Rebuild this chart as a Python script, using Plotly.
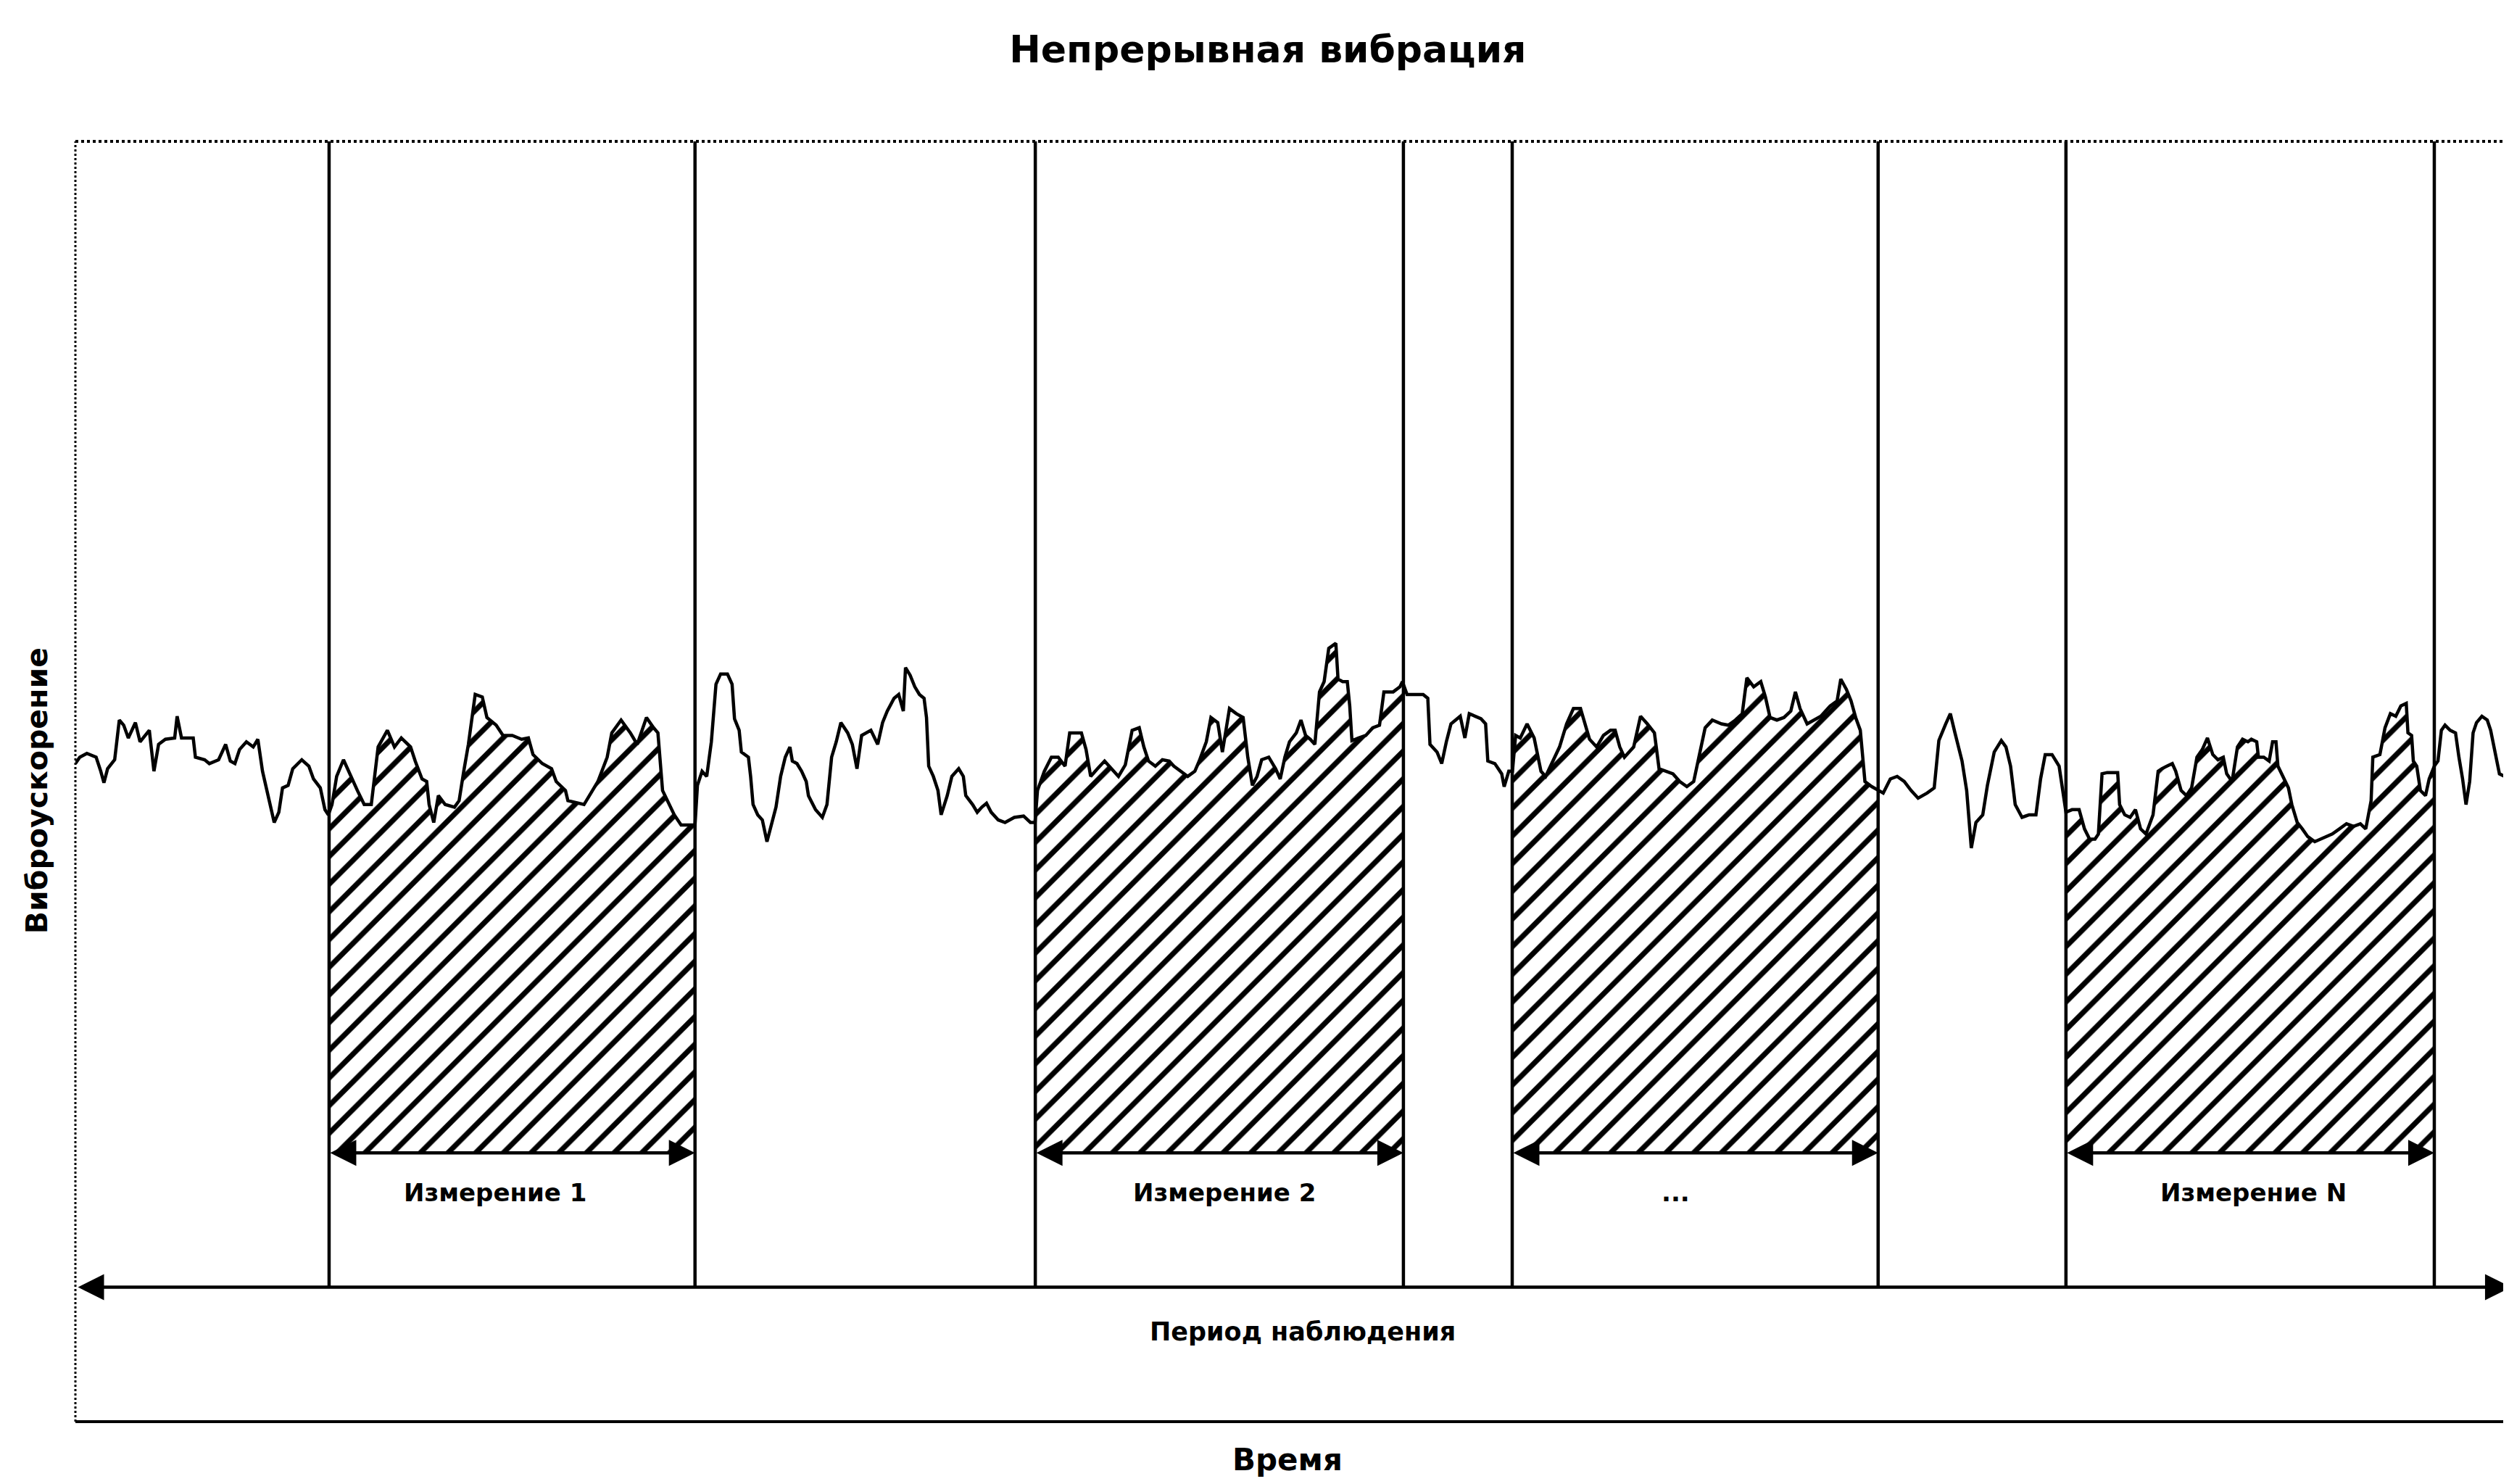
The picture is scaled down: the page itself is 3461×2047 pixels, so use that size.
import numpy as np
import plotly.graph_objects as go

# ---------------- data ----------------
title_text = "Непрерывная вибрация"
x_title = "Время"
y_title = "Виброускорение"
period_label = "Период наблюдения"

# time of the vertical marker lines (arbitrary time units, 0..1000)
boundaries = [104, 254, 393.5, 544.4, 589, 739, 816, 967]
# measurement windows (start, end) and their labels
meas_start = [104, 393.5, 589, 816]
meas_end = [254, 544.4, 739, 967]
meas_labels = ["Измерение 1", "Измерение 2", "...", "Измерение N"]
meas_label_t = [172, 471, 656, 893]

# levels (amplitude units 0..100)
meas_level = 21.0
meas_label_level = 17.9
period_level = 10.5
period_label_level = 7.0
period_start = 0.6
period_end = 998.5
period_label_t = 503

# vibration signal
signal_t = [
    0, 1.8, 4.7, 8.5, 10.4, 11.7, 13.2, 16.1, 18.0, 19.8, 21.7, 24.6, 26.5, 28.4, 30.3, 32.2, 34.1, 36.9,
    40.7, 41.7, 43.5, 48.3, 49.2, 53.0, 54.9, 58.7, 61.6, 63.5, 65.4, 67.3, 70.1, 72.9, 74.8, 76.7, 79.6,
    81.5, 83.4, 84.9, 87.2, 89.1, 92.8, 95.7, 97.6, 100.4, 102.3, 103.7,
    105.2, 107.1, 109.9, 112.8, 115.6, 118.4, 121.3, 124.1, 127.9, 130.8, 133.6, 137.4, 139.3, 142.1, 144.0,
    145.0, 146.9, 148.8, 151.6, 155.4, 157.3, 159.2, 161.1, 163.9, 166.8, 168.7, 172.5, 175.3, 179.1, 182.9,
    185.7, 187.6, 191.4, 195.2, 197.1, 200.9, 201.9, 208.5, 214.2, 218.0, 219.9, 223.7, 227.5, 230.3, 234.1,
    237.0, 238.8, 240.7, 242.6, 245.5, 248.3, 254.0,
    255.0, 256.9, 258.8, 260.7, 262.6, 264.5, 267.3, 269.2, 270.2, 272.1, 273.0, 275.9, 276.8, 277.8, 279.7,
    281.6, 283.5, 285.4, 287.2, 289.1, 291.0, 292.9, 293.9, 295.8, 297.7, 299.6, 300.5, 303.4, 306.2, 308.1,
    310.0, 311.9, 313.8, 316.6, 318.5, 320.4, 322.3, 326.1, 328.9, 330.9, 332.8, 335.6, 337.5, 339.4, 340.3,
    342.2, 344.1, 346.0, 347.9, 348.9, 349.8, 351.7, 353.6, 354.9, 357.4, 359.3, 362.1, 364.0, 365.0, 367.8,
    369.7, 371.6, 373.5, 375.4, 378.3, 381.1, 384.9, 388.7, 391.5, 393.4,
    394.4, 397.2, 400.1, 402.9, 405.7, 407.6, 412.4, 414.3, 416.2, 419.0, 421.9, 424.7, 427.6, 430.4, 433.2,
    436.1, 438.0, 439.9, 442.7, 445.6, 448.4, 450.3, 453.2, 456.0, 458.9, 460.7, 463.6, 465.5, 468.3, 470.2,
    473.1, 475.9, 478.7, 480.6, 482.5, 484.4, 486.3, 489.2, 492.0, 493.9, 495.8, 497.7, 500.5, 502.4, 504.3,
    506.2, 508.1, 510.0, 511.9, 513.8, 516.7, 517.6, 519.5, 521.4, 522.4, 523.3, 526.1, 529.0, 531.8, 534.6,
    536.4, 540.2, 543.0, 544.0,
    545.9, 552.5, 554.4, 555.3, 558.2, 560.1, 562.0, 563.9, 567.7, 569.6, 571.4, 576.2, 578.1, 579.0, 581.9,
    584.7, 585.7, 587.6, 589.1,
    590.4, 592.3, 595.1, 598.0, 600.8, 602.7, 605.6, 608.4, 611.3, 614.1, 617.0, 618.8, 620.7, 623.6, 626.4,
    629.3, 631.2, 633.1, 635.0, 638.8, 641.6, 644.4, 647.3, 649.2, 652.0, 654.9, 657.7, 660.6, 663.4, 665.3,
    668.1, 671.0, 674.8, 677.6, 680.5, 683.3, 685.2, 688.0, 690.9, 692.8, 694.7, 697.5, 700.4, 703.2, 705.1,
    707.0, 709.9, 712.7, 715.5, 719.3, 722.2, 723.7, 726.0, 727.9, 729.8, 731.7, 733.6, 736.4, 738.9,
    741.1, 744.0, 746.8, 749.7, 752.5, 755.4, 759.1, 762.0, 763.9, 766.7, 768.6, 770.5, 773.4, 775.3, 777.2,
    779.1, 781.9, 783.8, 786.6, 789.5, 791.4, 793.3, 795.2, 798.0, 800.9, 803.7, 805.6, 807.5, 810.3, 813.2,
    816.0,
    818.5, 821.4, 823.6, 825.7, 827.9, 829.3, 830.8, 832.9, 837.2, 838.0, 840.1, 842.3, 844.5, 846.6, 848.8,
    851.7, 853.8, 855.3, 857.4, 859.6, 861.0, 863.2, 865.4, 867.5, 869.7, 871.9, 874.0, 876.2, 878.3, 880.5,
    881.9, 884.1, 886.3, 888.4, 890.6, 892.0, 894.2, 894.9, 897.1, 899.3, 900.7, 902.1, 902.9, 905.0, 907.2,
    908.6, 910.8, 912.9, 915.1, 918.0, 920.2, 923.0, 925.2, 928.1, 931.0, 933.9, 936.7, 938.9, 941.1, 941.8,
    944.7, 946.8, 949.0, 951.2, 953.3, 955.5, 956.2, 957.7, 958.4, 959.8, 961.3, 963.4, 964.9, 967.0,
    968.5, 969.9, 971.4, 973.5, 975.7, 977.1, 978.6, 980.0, 981.5, 982.9, 984.3, 986.5, 988.7, 990.1, 992.3,
    993.7, 995.9, 998.0, 1000,
]
signal_a = [
    51.4, 51.9, 52.2, 51.9, 50.8, 49.9, 51.0, 51.7, 54.8, 54.4, 53.4, 54.6, 53.1, 53.6, 54.0, 50.8, 52.9, 53.3,
    53.4, 55.1, 53.4, 53.4, 51.9, 51.7, 51.4, 51.7, 52.9, 51.6, 51.4, 52.5, 53.1, 52.7, 53.3, 50.8, 48.5,
    46.8, 47.6, 49.5, 49.7, 51.0, 51.7, 51.2, 50.2, 49.5, 47.8, 47.4,
    48.2, 50.4, 51.7, 50.4, 49.3, 48.2, 48.2, 52.7, 54.0, 52.7, 53.4, 52.7, 51.6, 50.2, 50.0,
    48.2, 46.8, 48.9, 48.2, 48.0, 48.5, 50.8, 52.9, 56.8, 56.6, 55.0, 54.4, 53.6, 53.6, 53.3,
    53.4, 52.1, 51.4, 51.0, 50.0, 49.3, 48.5, 48.2, 50.0, 51.9, 53.8, 54.8, 53.8, 52.9, 55.0,
    54.2, 53.8, 49.3, 48.5, 47.4, 46.6, 46.6,
    49.7, 50.8, 50.4, 53.1, 57.6, 58.4, 58.4, 57.6, 54.9, 54.0, 52.3, 51.9, 50.4, 48.2, 47.4,
    47.0, 45.3, 46.8, 48.0, 50.4, 51.9, 52.7, 51.6, 51.4, 50.8, 50.0, 48.9, 47.8, 47.2, 48.2,
    51.9, 53.1, 54.6, 53.8, 52.9, 51.0, 53.6, 54.0, 52.9, 54.6, 55.5, 56.5, 56.8, 55.5, 58.9,
    58.3, 57.4, 56.8, 56.5, 55.0, 51.2, 50.4, 49.3, 47.4, 48.9, 50.4, 51.0, 50.4, 48.9, 48.2,
    47.6, 48.0, 48.3, 47.6, 47.0, 46.8, 47.2, 47.3, 46.8, 46.8,
    49.3, 50.8, 51.9, 51.9, 51.2, 53.8, 53.8, 52.5, 50.4, 51.0, 51.6, 51.0, 50.4, 51.3, 54.0,
    54.2, 52.7, 51.6, 51.2, 51.7, 51.6, 51.2, 50.8, 50.4, 50.8, 51.6, 53.1, 55.0, 54.6, 52.3,
    55.7, 55.3, 55.0, 51.9, 49.7, 50.4, 51.7, 51.9, 51.0, 50.2, 51.9, 53.1, 53.8, 54.8, 53.6,
    53.3, 52.9, 57.0, 57.8, 60.4, 60.8, 58.0, 57.8, 57.8, 55.9, 53.2, 53.4, 53.6, 54.2, 54.4,
    57.0, 57.0, 57.4, 57.8,
    56.8, 56.8, 56.5, 52.9, 52.3, 51.4, 53.1, 54.5, 55.1, 53.4, 55.3, 54.9, 54.5, 51.6, 51.4,
    50.6, 49.6, 50.8, 50.8,
    53.6, 53.4, 54.5, 53.4, 50.8, 50.4, 51.6, 52.7, 54.5, 55.7, 55.7, 54.5, 53.3, 52.7, 53.6,
    54.0, 54.0, 52.7, 51.9, 52.7, 55.1, 54.5, 53.8, 51.0, 50.8, 50.6, 50.0, 49.6, 50.0, 51.6,
    54.2, 54.8, 54.5, 54.4, 54.8, 55.3, 58.1, 57.4, 57.8, 56.6, 55.0, 54.8, 55.0, 55.5, 57.0,
    55.7, 54.5, 54.8, 55.1, 55.9, 56.3, 58.0, 57.2, 56.3, 55.0, 54.0, 50.0, 49.6, 49.3,
    49.1, 50.2, 50.4, 50.0, 49.3, 48.7, 49.1, 49.5, 53.2, 54.5, 55.3, 53.8, 51.6, 49.3, 44.8,
    46.8, 47.4, 49.7, 52.3, 53.2, 52.7, 51.2, 48.2, 47.2, 47.4, 47.4, 50.2, 52.1, 52.1, 51.2,
    47.6,
    47.8, 47.8, 46.3, 45.5, 45.5, 45.9, 50.6, 50.7, 50.7, 48.2, 47.4, 47.2, 47.8, 46.3, 45.9,
    47.4, 50.8, 51.0, 51.2, 51.4, 50.8, 49.3, 48.9, 49.5, 51.9, 52.5, 53.4, 52.1, 51.7, 51.9,
    50.6, 50.0, 52.7, 53.3, 53.1, 53.3, 53.1, 51.9, 51.9, 51.6, 53.1, 53.1, 51.2, 50.4, 49.5,
    48.2, 46.8, 46.3, 45.7, 45.3, 45.5, 45.7, 45.9, 46.3, 46.7, 46.5, 46.7, 46.3, 48.5, 51.9,
    52.1, 54.2, 55.3, 55.1, 55.9, 56.1, 53.8, 53.6, 51.6, 51.2, 49.3, 48.9, 50.2, 51.2,
    51.6, 54.0, 54.4, 54.0, 53.8, 51.9, 50.2, 48.2, 50.0, 53.8, 54.6, 55.1, 54.8, 54.0, 52.1,
    50.6, 50.4, 49.7, 49.1,
]

# ---------------- figure ----------------
W, H = 3461, 2047
FONT = "DejaVu Sans"
sig_t = np.array(signal_t, dtype=float)
sig_a = np.array(signal_a, dtype=float)

fig = go.Figure()

# hatched measurement windows
for s, e in zip(meas_start, meas_end):
    inside = (sig_t > s) & (sig_t < e)
    xs = np.concatenate([[s], sig_t[inside], [e], [e, s]])
    ys = np.concatenate([[np.interp(s, sig_t, sig_a)], sig_a[inside],
                         [np.interp(e, sig_t, sig_a)], [meas_level, meas_level]])
    fig.add_trace(go.Scatter(
        x=xs, y=ys, mode="lines", fill="toself",
        line=dict(width=0, color="rgba(0,0,0,0)"),
        fillcolor="white",
        fillpattern=dict(shape="/", size=27, solidity=0.27,
                         fgcolor="black", bgcolor="white", fillmode="replace"),
        hoverinfo="skip", showlegend=False,
    ))

# signal line
fig.add_trace(go.Scatter(
    x=sig_t, y=sig_a, mode="lines",
    line=dict(color="black", width=4.5),
    hoverinfo="skip", showlegend=False,
))

shapes = []
# frame: dotted top/left, solid bottom
shapes.append(dict(type="line", xref="paper", yref="paper", x0=0, x1=1, y0=1, y1=1,
                   line=dict(color="black", width=4, dash="dot")))
shapes.append(dict(type="line", xref="paper", yref="paper", x0=0, x1=0, y0=0, y1=1,
                   line=dict(color="black", width=3, dash="dot")))
shapes.append(dict(type="line", xref="paper", yref="paper", x0=0, x1=1, y0=0, y1=0,
                   line=dict(color="black", width=4)))
# vertical markers
for b in boundaries:
    shapes.append(dict(type="line", xref="x", yref="y", x0=b, x1=b, y0=period_level, y1=100,
                       line=dict(color="black", width=4.5)))

annotations = []
# measurement arrows
for s, e in zip(meas_start, meas_end):
    annotations.append(dict(x=e, y=meas_level, ax=s, ay=meas_level, xref="x", yref="y",
                            axref="x", ayref="y", text="", showarrow=True,
                            arrowhead=2, arrowside="end+start", arrowsize=1.6,
                            arrowwidth=4.5, arrowcolor="black", standoff=0, startstandoff=0))
# measurement labels
for t, lab in zip(meas_label_t, meas_labels):
    annotations.append(dict(x=t, y=meas_label_level, xref="x", yref="y", text="<b>" + lab + "</b>",
                            showarrow=False, font=dict(family=FONT, size=34, color="black"),
                            xanchor="center", yanchor="middle"))
# observation period arrow
annotations.append(dict(x=period_end, y=period_level, ax=period_start, ay=period_level,
                        xref="x", yref="y", axref="x", ayref="y", text="", showarrow=True,
                        arrowhead=2, arrowside="end+start", arrowsize=1.6, arrowwidth=4.5,
                        arrowcolor="black", standoff=0, startstandoff=0))
annotations.append(dict(x=period_label_t, y=period_label_level, xref="x", yref="y",
                        text="<b>" + period_label + "</b>", showarrow=False,
                        font=dict(family=FONT, size=35, color="black"),
                        xanchor="center", yanchor="middle"))
# axis titles
annotations.append(dict(x=0.497, y=-0.03, xref="paper", yref="paper", text="<b>" + x_title + "</b>",
                        showarrow=False, font=dict(family=FONT, size=42, color="black"),
                        xanchor="center", yanchor="middle"))
annotations.append(dict(x=-0.0155, y=0.493, xref="paper", yref="paper", text="<b>" + y_title + "</b>",
                        showarrow=False, textangle=-90,
                        font=dict(family=FONT, size=41, color="black"),
                        xanchor="center", yanchor="middle"))

fig.update_layout(
    width=W, height=H, autosize=False,
    margin=dict(l=96, r=0, t=187, b=94),
    paper_bgcolor="white", plot_bgcolor="white",
    title=dict(text="<b>" + title_text + "</b>", x=0.503, xanchor="center",
               y=1 - 60 / H, yanchor="middle", xref="container", yref="container",
               font=dict(family=FONT, size=52, color="black")),
    shapes=shapes, annotations=annotations, showlegend=False,
    xaxis=dict(range=[0, 1000], visible=False, fixedrange=True),
    yaxis=dict(range=[0, 100], visible=False, fixedrange=True),
)

fig.write_html("out.html")
